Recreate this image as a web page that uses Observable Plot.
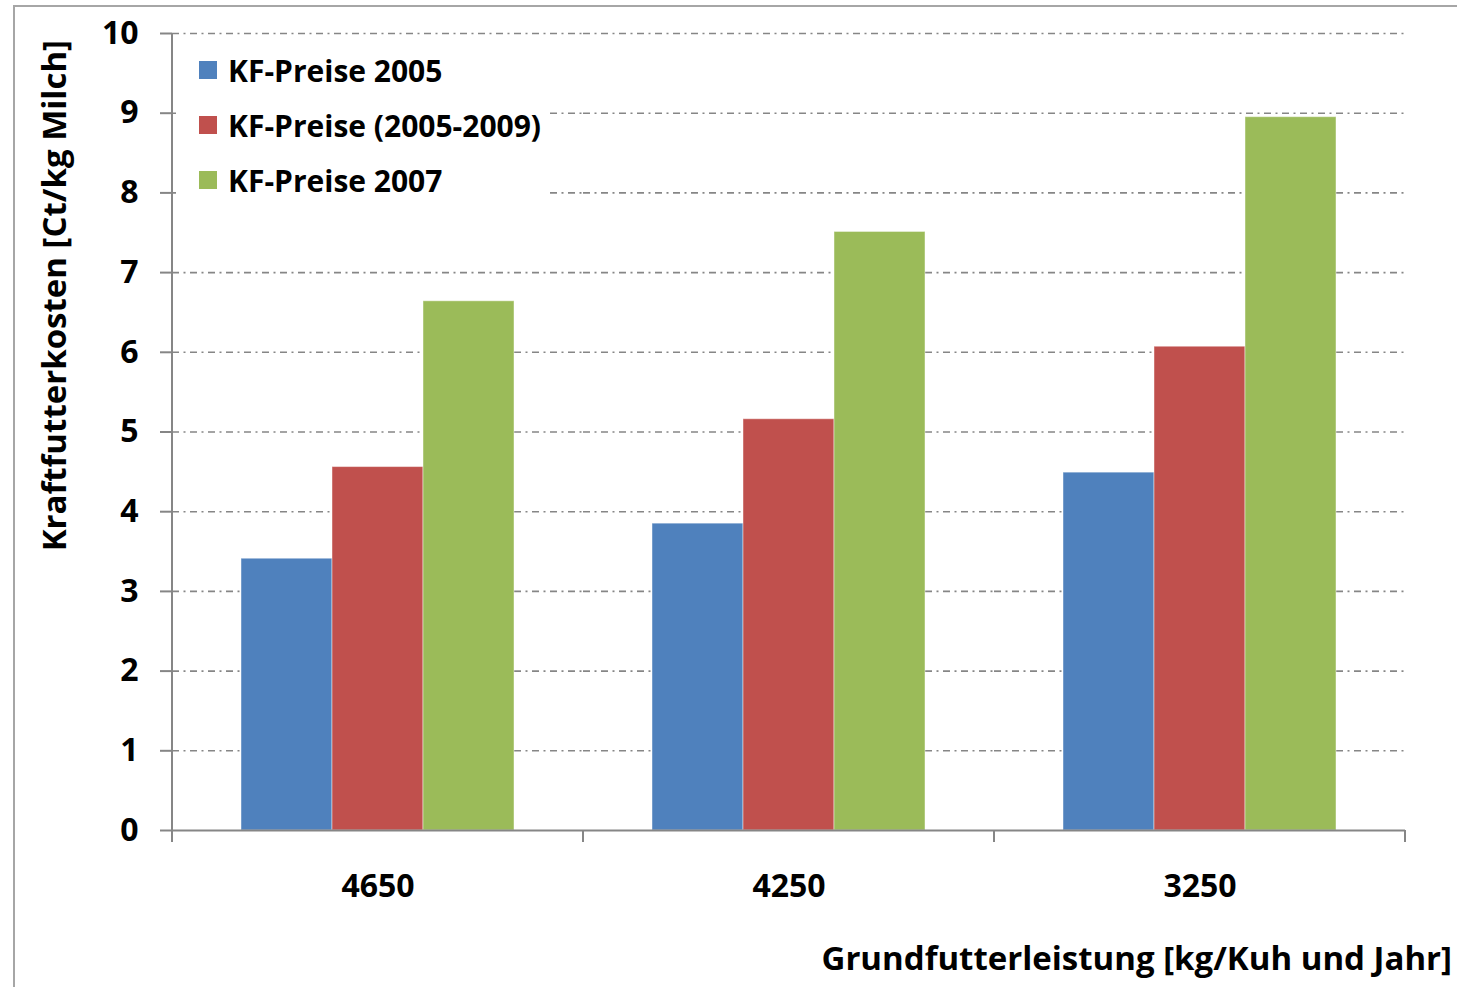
<!DOCTYPE html>
<html>
<head>
<meta charset="utf-8">
<script src="https://cdn.jsdelivr.net/npm/d3@7"></script>
<script src="https://cdn.jsdelivr.net/npm/@observablehq/plot@0.6"></script>
<style>
  body { margin: 0; background: #fff; }
  #chart { position: relative; width: 1457px; height: 987px; font-family: "Open Sans", Lato, sans-serif; font-weight: 700; color: #000; }
  #chart svg { display: block; }
  .legend { position: absolute; left: 176px; top: 44px; width: 372px; height: 154px; background: #fff; }
  .item { position: absolute; left: 23px; height: 30px; display: flex; align-items: center; font-size: 30px; white-space: nowrap; }
  .swatch { width: 18px; height: 18px; margin-right: 11px; flex: none; }
</style>
</head>
<body>
<div id="chart"></div>
<script>
// Grundfutterleistung classes (kg per cow and year)
const groups = ["4650", "4250", "3250"];
// Concentrate price scenarios
const series = ["KF-Preise 2005", "KF-Preise (2005-2009)", "KF-Preise 2007"];
const seriesColors = ["#4F81BD", "#C0504D", "#9BBB59"];
// Concentrate feed costs in Ct per kg milk, one value per group
const kf2005 = [3.41, 3.85, 4.49];
const kf2005to2009 = [4.56, 5.16, 6.07];
const kf2007 = [6.64, 7.51, 8.95];
const yTicks = [0, 1, 2, 3, 4, 5, 6, 7, 8, 9, 10];

const yLabel = "Kraftfutterkosten [Ct/kg Milch]";
const xLabel = "Grundfutterleistung [kg/Kuh und Jahr]";

const valuesBySeries = [kf2005, kf2005to2009, kf2007];
const rows = series.flatMap((s, si) =>
  groups.map((g, gi) => ({group: g, series: s, value: valuesBySeries[si][gi]}))
);

const W = 1457, H = 987;
const axisGray = "#868686";
const fontStack = "'Open Sans', Lato, sans-serif";

const chart = Plot.plot({
  width: W,
  height: H,
  marginLeft: 172,
  marginRight: 52,
  marginTop: 33,
  marginBottom: 157,
  style: {fontFamily: fontStack, fontWeight: 700, fontSize: "32px", color: "#000", background: "#fff", overflow: "visible"},
  fx: {domain: groups, padding: 0, label: null},
  x: {domain: series, paddingInner: 0, paddingOuter: 0.758, axis: null},
  y: {domain: [0, 10], label: null, axis: null},
  color: {domain: series, range: seriesColors},
  marks: [
    // dash-dot horizontal gridlines
    Plot.ruleY(yTicks.slice(1), {stroke: axisGray, strokeWidth: 1.6, strokeDasharray: "7,4.5,2,4.5"}),
    Plot.barY(rows, {fx: "group", x: "series", y: "value", fill: "series", stroke: "#fff", strokeOpacity: 0.45, strokeWidth: 1}),
    Plot.ruleY([0], {stroke: axisGray, strokeWidth: 2}),
    Plot.axisY(yTicks, {anchor: "left", tickSize: 12, tickPadding: 22, tickFormat: d => String(d), stroke: axisGray, strokeWidth: 2, fill: "#000", fontSize: 32, fontWeight: 700, label: null}),
    Plot.axisFx({anchor: "bottom", tickSize: 0, tickPadding: 44, fill: "#000", fontSize: 32, fontWeight: 700, label: null})
  ]
});

const root = document.getElementById("chart");
root.appendChild(chart);

// axis lines, category separators, frame and titles
const svg = d3.select(chart.tagName.toLowerCase() === "svg" ? chart : chart.querySelector("svg"));
const fx = chart.scale("fx");
const y = chart.scale("y");
const y0 = y.apply(0), y10 = y.apply(10);
const left = fx.apply(groups[0]);
const edges = groups.map(g => fx.apply(g)).concat([fx.apply(groups[groups.length - 1]) + fx.bandwidth]);

const chrome = svg.append("g").attr("stroke", axisGray).attr("stroke-width", 2).attr("fill", "none");
chrome.append("line").attr("x1", left).attr("x2", left).attr("y1", y10).attr("y2", y0 + 12);
edges.slice(1).forEach(e => chrome.append("line").attr("x1", e).attr("x2", e).attr("y1", y0).attr("y2", y0 + 12));
chrome.append("path").attr("stroke", "#a6a6a6").attr("d", `M14,${H} V6 H${W}`);

svg.append("text")
  .attr("transform", `translate(66,40) rotate(-90)`)
  .attr("text-anchor", "end")
  .attr("font-family", fontStack)
  .attr("font-size", 33)
  .attr("font-weight", 700)
  .attr("fill", "#000")
  .text(yLabel);

svg.append("text")
  .attr("x", 1452).attr("y", 970)
  .attr("text-anchor", "end")
  .attr("font-family", fontStack)
  .attr("font-size", 33)
  .attr("font-weight", 700)
  .attr("fill", "#000")
  .text(xLabel);

// legend box over the upper-left gridlines
const legend = d3.select(root).append("div").attr("class", "legend");
series.forEach((s, i) => {
  const item = legend.append("div").attr("class", "item").style("top", `${11 + i * 55}px`);
  item.append("div").attr("class", "swatch").style("background", seriesColors[i]);
  item.append("span").text(s);
});
</script>
</body>
</html>
